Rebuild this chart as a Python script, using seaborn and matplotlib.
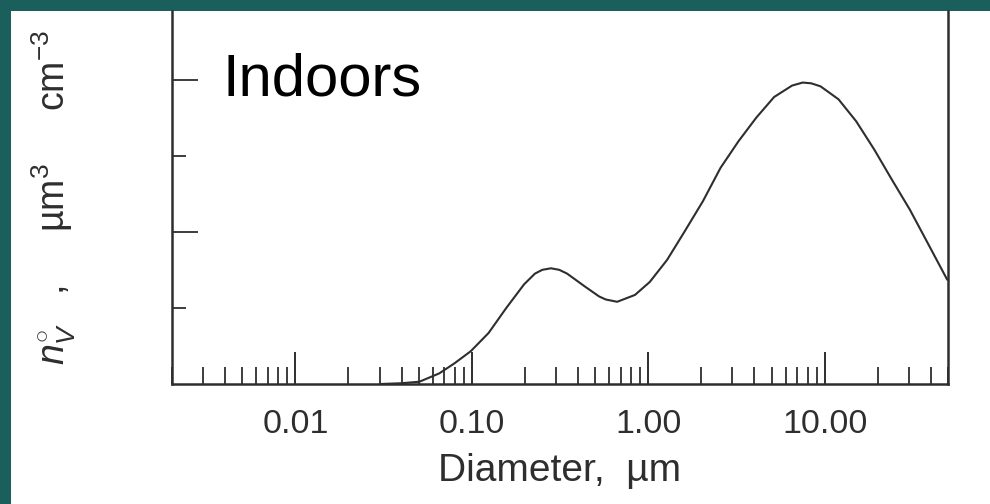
import matplotlib
matplotlib.use("Agg")
import matplotlib.pyplot as plt
import matplotlib.ticker as mticker
from matplotlib.patches import Rectangle
import numpy as np
import pandas as pd
import seaborn as sns

# ---- data ----
diameter_um = [0.0303, 0.0399, 0.0505, 0.0655, 0.0796, 0.0986, 0.1245, 0.157,
               0.198, 0.228, 0.251, 0.281, 0.313, 0.347, 0.438, 0.527, 0.575,
               0.667, 0.841, 1.02, 1.279, 1.614, 2.04, 2.57, 3.25, 4.10, 5.17,
               6.53, 7.51, 8.39, 9.48, 11.98, 15.1, 19.1, 24.1, 30.4, 38.4, 49.5]
volume_dist = [0.0, 0.01, 0.03, 0.14, 0.27, 0.43, 0.67, 1.0,
               1.31, 1.45, 1.50, 1.52, 1.50, 1.45, 1.28, 1.15, 1.11,
               1.08, 1.17, 1.34, 1.63, 2.01, 2.40, 2.84, 3.19, 3.50, 3.77,
               3.92, 3.96, 3.95, 3.91, 3.74, 3.45, 3.08, 2.68, 2.29, 1.85, 1.37]
x_major = [0.01, 0.1, 1.0, 10.0]
x_major_labels = ["0.01", "0.10", "1.00", "10.00"]
y_major = [2, 4]
y_minor = [1, 3]
title_text = "Indoors"

df = pd.DataFrame({"d": diameter_um, "v": volume_dist})

sns.set_style("white")
plt.rcParams['font.family'] = ['Liberation Sans', 'DejaVu Sans']
plt.rcParams['mathtext.fontset'] = 'custom'
plt.rcParams['mathtext.rm'] = 'Liberation Sans'
plt.rcParams['mathtext.it'] = 'Liberation Sans:italic'

TEAL = "#1a5f5b"
INK = "#2e2e2e"

fig = plt.figure(figsize=(9.9, 5.04), dpi=100)
fig.patch.set_facecolor(TEAL)
fig.add_artist(Rectangle((11/990, 0), 1 - 11/990, (504 - 11)/504,
                         transform=fig.transFigure, facecolor="white",
                         edgecolor="none", zorder=0))

ax = fig.add_axes([172/990, 120/504, (948-172)/990, (384-11)/504])
ax.set_facecolor("white")

sns.lineplot(data=df, x="d", y="v", ax=ax, color=INK, linewidth=1.5,
             estimator=None, sort=False)

ax.set_xscale("log")
ax.set_xlim(0.002, 50)
ax.set_ylim(0, 4.9)

ax.xaxis.set_major_locator(mticker.FixedLocator(x_major))
ax.xaxis.set_major_formatter(mticker.FixedFormatter(x_major_labels))
ax.xaxis.set_minor_locator(mticker.LogLocator(base=10, subs=np.arange(2, 10), numticks=20))
ax.xaxis.set_minor_formatter(mticker.NullFormatter())
ax.yaxis.set_major_locator(mticker.FixedLocator(y_major))
ax.yaxis.set_minor_locator(mticker.FixedLocator(y_minor))
ax.yaxis.set_major_formatter(mticker.NullFormatter())

ax.tick_params(axis="x", which="major", direction="in", length=23, width=1.4,
               color=INK, pad=18, labelsize=24.5, labelcolor=INK,
               bottom=True, top=False)
ax.tick_params(axis="x", which="minor", direction="in", length=12, width=1.3,
               color=INK, bottom=True, top=False)
ax.tick_params(axis="y", which="major", direction="in", length=19, width=1.3,
               color=INK, left=True, right=False, labelleft=False)
ax.tick_params(axis="y", which="minor", direction="in", length=10, width=1.3,
               color=INK, left=True, right=False)

for side in ["left", "bottom", "right"]:
    ax.spines[side].set_visible(True)
    ax.spines[side].set_color(INK)
    ax.spines[side].set_linewidth(1.8)
ax.spines["top"].set_visible(False)

ax.set_xlabel("Diameter,  µm", fontsize=28, color=INK, labelpad=9.4)
ax.set_ylabel(r"$n^{\circ}_{V}$   ,     µm$^{3}$     cm$^{-3}$", fontsize=27, color=INK)
ax.yaxis.set_label_coords(-0.121, 0.5)

fig.text(222/990, (504 - 95)/504, title_text, fontsize=43, color="black",
         ha="left", va="baseline")

fig.savefig("out.png", dpi=100, facecolor=fig.get_facecolor())
